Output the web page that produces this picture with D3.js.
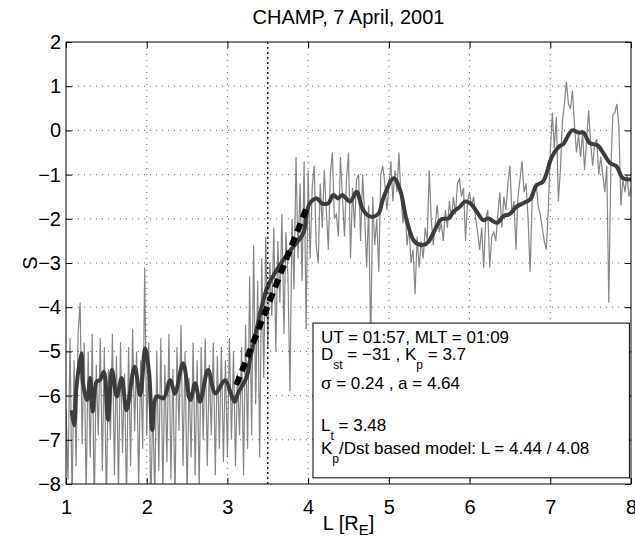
<!DOCTYPE html>
<html>
<head>
<meta charset="utf-8">
<script src="https://cdn.jsdelivr.net/npm/d3@7"></script>
<style>
  body { margin: 0; background: #fff; }
  svg text { font-family: "Liberation Sans", Arial, Helvetica, sans-serif; fill: #000; }
</style>
</head>
<body>
<svg id="drawing_region"></svg>
<script>
// axis ticks
const xTicks = [1, 2, 3, 4, 5, 6, 7, 8];
const yTicks = [2, 1, 0, -1, -2, -3, -4, -5, -6, -7, -8];

// raw S, sampled every 0.025 in L starting at L = 1
const rawStart = 1, rawStep = 0.025;
const rawS1 = [-6.3, -7.9, -4.7, -8.4, -5.2, -7.6, -4.6, -3.9, -7.1, -4.8,
               -8.3, -5.0, -7.4, -4.6, -8.6, -5.3, -6.9, -4.7, -7.7, -4.9,
               -8.5, -5.4, -7.0, -4.6, -7.8, -5.1, -8.2, -4.8, -7.3, -5.5,
               -8.4, -4.9, -7.6, -4.5, -6.8, -5.0, -8.1, -5.2, -7.2, -3.1];
const rawS2 = [-6.9, -4.8, -8.6, -6.2, -8.3, -5.0, -7.7, -4.7, -8.2, -5.3,
               -7.5, -4.6, -7.9, -5.4, -8.4, -4.9, -6.8, -4.4, -7.6, -5.0,
               -8.3, -5.6, -7.4, -4.8, -7.8, -5.2, -8.1, -4.9, -7.0, -4.7,
               -7.6, -5.3, -6.9, -4.8, -7.8, -5.1, -7.2, -4.9, -7.5, -5.2];
const rawS3 = [-7.4, -4.7, -7.0, -5.0, -7.6, -5.5, -6.9, -4.9, -7.8, -4.4,
               -7.2, -3.3, -6.9, -2.6, -6.2, -3.4, -7.4, -2.9, -5.6, -2.4,
               -4.9, -3.0, -4.2, -2.2, -5.0, -2.5, -3.9, -1.9, -4.6, -2.3,
               -3.3, -5.9, -2.0, -3.6, -0.6, -2.9, -1.2, -3.4, -0.7, -4.5];
const rawS4 = [-0.9, -2.9, -1.3, -0.8, -2.6, -3.0, -1.2, -2.2, -0.9, -1.8,
               -2.7, -1.0, -0.5, -2.0, -1.9, -2.4, -0.6, -1.5, -2.4, -1.1,
               -0.5, -2.9, -1.3, -2.2, -1.1, -1.0, -2.5, -1.0, -1.9, -3.1,
               -1.7, -4.9, -1.5, -2.6, -2.0, -3.2, -1.0, -0.8, -1.2, -1.8];
const rawS5 = [-1.3, -0.7, -1.6, -0.9, -1.4, -0.5, -1.5, -2.1, -1.7, -2.6,
               -2.2, -3.0, -2.7, -3.7, -2.4, -3.1, -2.5, -2.9, -2.2, -2.5,
               -0.9, -2.0, -2.6, -2.1, -1.7, -2.3, -2.1, -2.5, -1.8, -2.2,
               -1.6, -2.0, -1.5, -1.9, -1.2, -1.1, -1.5, -1.3, -2.5, -1.6];
const rawS6 = [-1.4, -1.7, -1.5, -2.0, -2.3, -2.7, -2.2, -3.1, -2.0, -1.8,
               -3.1, -2.4, -2.3, -2.5, -1.9, -1.4, -2.2, -1.5, -1.8, -1.2,
               -0.8, -1.9, -1.6, -2.7, -1.5, -1.1, -0.7, -1.4, -1.2, -2.0,
               -3.2, -1.6, -1.4, -1.2, -1.7, -1.9, -2.2, -2.5, -2.7, -1.8];
const rawS7 = [-0.5, 0.4, -0.4, 0.3, -1.6, -0.9, 0.2, 0.6, 1.1, 0.6,
               0.5, 0.9, 0.1, -0.5, -0.1, -0.6, -0.05, -0.9, -0.2, 0.45,
               -0.3, -0.8, -0.3, -0.2, -1.0, -0.6, -1.0, -1.4, -0.8, -3.9,
               -0.9, 0.35, 0.4, 0.6, 0.1, -1.7, -1.1, -1.4, -1.0, -1.5];
const rawEnd = [-1.3];

// smoothed S
const smoothL = [1.07, 1.10, 1.13, 1.19, 1.21, 1.26, 1.30, 1.33, 1.38, 1.42,
                 1.47, 1.52, 1.57, 1.63, 1.69, 1.75, 1.85, 1.92, 1.98, 2.03,
                 2.07, 2.12, 2.21, 2.29, 2.35, 2.45, 2.54, 2.60, 2.66, 2.76,
                 2.85, 2.97, 3.05, 3.09, 3.13, 3.24, 3.28, 3.36, 3.43, 3.49,
                 3.61, 3.78, 3.94, 3.98, 4.02, 4.11, 4.17, 4.25, 4.31, 4.37,
                 4.42, 4.52, 4.60, 4.68, 4.77, 4.87, 4.93, 5.06, 5.14, 5.22,
                 5.32, 5.43, 5.49, 5.59, 5.65, 5.74, 5.80, 5.88, 5.94, 6.01,
                 6.09, 6.17, 6.23, 6.34, 6.42, 6.50, 6.58, 6.67, 6.75, 6.83,
                 6.91, 7.02, 7.12, 7.16, 7.27, 7.35, 7.41, 7.49, 7.58, 7.66,
                 7.74, 7.82, 7.90, 8.00];
const smoothS = [-6.33, -6.67, -5.80, -5.04, -5.72, -6.10, -5.60, -6.36, -5.68, -5.65,
                 -5.46, -6.55, -5.42, -6.02, -5.60, -6.33, -5.35, -5.99, -4.93, -5.49,
                 -6.78, -6.02, -6.06, -5.65, -5.95, -5.27, -6.10, -5.72, -6.14, -5.42,
                 -5.95, -5.65, -5.99, -6.14, -5.95, -5.57, -5.19, -4.52, -3.95, -3.57,
                 -3.16, -2.71, -2.33, -1.90, -1.65, -1.54, -1.65, -1.65, -1.46, -1.54,
                 -1.46, -1.61, -1.39, -1.80, -1.95, -1.89, -1.54, -1.08, -1.35, -2.03,
                 -2.52, -2.59, -2.52, -2.18, -2.01, -1.99, -1.84, -1.73, -1.61, -1.65,
                 -1.84, -2.03, -1.99, -2.09, -1.94, -1.89, -1.73, -1.64, -1.56, -1.24,
                 -1.16, -0.60, -0.35, -0.31, 0.00, -0.05, -0.05, -0.29, -0.33, -0.52,
                 -0.74, -0.81, -1.08, -1.11];

// fitted transition (dashed)
const fitL = [3.11, 3.98];
const fitS = [-5.76, -1.76];

// L_t marker
const lT = 3.5;

// annotation box corners (data units)
const boxL = [4.06, 7.98];
const boxS = [-4.36, -7.86];

const config = {
  parent: '#drawing_region',
  width: 635,
  height: 541,
  margin: {top: 42, right: 4, bottom: 57, left: 66}
};

const svg = d3.select(config.parent)
  .attr('width', config.width)
  .attr('height', config.height);

const w = config.width - config.margin.left - config.margin.right;
const h = config.height - config.margin.top - config.margin.bottom;

const chart = svg.append('g')
  .attr('transform', `translate(${config.margin.left}, ${config.margin.top})`);

const x = d3.scaleLinear().domain([1, 8]).range([0, w]);
const y = d3.scaleLinear().domain([-8, 2]).range([h, 0]);

chart.append('clipPath').attr('id', 'clip')
  .append('rect').attr('width', w).attr('height', h);

// grid
chart.append('g').selectAll('line')
  .data(xTicks.slice(1, -1))
  .join('line')
  .attr('x1', d => x(d)).attr('x2', d => x(d))
  .attr('y1', 0).attr('y2', h)
  .attr('stroke', '#444').attr('stroke-width', 0.8)
  .attr('stroke-dasharray', '1,5');

chart.append('g').selectAll('line')
  .data(yTicks.slice(1, -1))
  .join('line')
  .attr('x1', 0).attr('x2', w)
  .attr('y1', d => y(d)).attr('y2', d => y(d))
  .attr('stroke', '#444').attr('stroke-width', 0.8)
  .attr('stroke-dasharray', '1,5');

const plot = chart.append('g').attr('clip-path', 'url(#clip)');

const rawS = [].concat(rawS1, rawS2, rawS3, rawS4, rawS5, rawS6, rawS7, rawEnd);
const raw = rawS.map((s, i) => ({L: rawStart + i * rawStep, S: s}));
const smooth = smoothL.map((l, i) => ({L: l, S: smoothS[i]}));
const fit = fitL.map((l, i) => ({L: l, S: fitS[i]}));

const line = d3.line().x(d => x(d.L)).y(d => y(d.S));

plot.append('path')
  .datum(raw)
  .attr('d', line)
  .attr('fill', 'none')
  .attr('stroke', '#858585')
  .attr('stroke-width', 1.2);

plot.append('path')
  .datum(smooth)
  .attr('d', line.curve(d3.curveCatmullRom.alpha(0.5)))
  .attr('fill', 'none')
  .attr('stroke', '#3c3c3c')
  .attr('stroke-width', 4)
  .attr('stroke-linejoin', 'round');

line.curve(d3.curveLinear);

plot.append('path')
  .datum(fit)
  .attr('d', line)
  .attr('fill', 'none')
  .attr('stroke', '#000')
  .attr('stroke-width', 6)
  .attr('stroke-dasharray', '9,6');

chart.append('line')
  .attr('x1', x(lT)).attr('x2', x(lT))
  .attr('y1', 0).attr('y2', h)
  .attr('stroke', '#000').attr('stroke-width', 1.3)
  .attr('stroke-dasharray', '2,3');

// axes (ticks inside, box on)
const tickFont = g => g.selectAll('text')
  .style('font-size', '20px')
  .style('font-family', '"Liberation Sans", Arial, sans-serif');

chart.append('g')
  .attr('transform', `translate(0, ${h})`)
  .call(d3.axisBottom(x).tickValues(xTicks).tickSize(-6).tickPadding(16).tickFormat(d3.format('d')))
  .call(g => g.select('.domain').remove())
  .call(tickFont);

chart.append('g')
  .call(d3.axisTop(x).tickValues(xTicks).tickSize(-6).tickFormat(''))
  .call(g => g.select('.domain').remove());

chart.append('g')
  .call(d3.axisLeft(y).tickValues(yTicks).tickSize(-6).tickPadding(5).tickFormat(d3.format('d')))
  .call(g => g.select('.domain').remove())
  .call(tickFont);

chart.append('g')
  .attr('transform', `translate(${w}, 0)`)
  .call(d3.axisRight(y).tickValues(yTicks).tickSize(-6).tickFormat(''))
  .call(g => g.select('.domain').remove());

chart.append('rect')
  .attr('width', w).attr('height', h)
  .attr('fill', 'none').attr('stroke', '#000').attr('stroke-width', 1);

// annotation box
chart.append('rect')
  .attr('x', x(boxL[0])).attr('y', y(boxS[0]))
  .attr('width', x(boxL[1]) - x(boxL[0]))
  .attr('height', y(boxS[1]) - y(boxS[0]))
  .attr('fill', '#fff').attr('stroke', '#000').attr('stroke-width', 1);

const tx = x(boxL[0]) + 8;
const ty0 = y(boxS[0]);
const info = chart.append('g').style('font-size', '17px');

const addLine = (dyTop, parts) => {
  const t = info.append('text').attr('x', tx).attr('y', ty0 + dyTop);
  let shift = 0;
  parts.forEach(p => {
    const sub = p[1] === 'sub';
    const want = sub ? 9 : 0;
    t.append('tspan')
      .attr('dy', want - shift)
      .style('font-size', sub ? '12px' : null)
      .text(p[0]);
    shift = want;
  });
};

addLine(20, [['UT = 01:57, MLT = 01:09']]);
addLine(37, [['D'], ['st', 'sub'], [' = \u221231 ,  K'], ['p', 'sub'], [' = 3.7']]);
addLine(66, [['\u03c3 = 0.24 , a = 4.64']]);
addLine(108, [['L'], ['t', 'sub'], [' = 3.48']]);
addLine(131, [['K'], ['p', 'sub'], ['/Dst based model: L = 4.44 / 4.08']]);

// titles
svg.append('text')
  .attr('x', config.margin.left + w / 2).attr('y', 24)
  .attr('text-anchor', 'middle')
  .style('font-size', '20px')
  .text('CHAMP, 7 April, 2001');

const xl = svg.append('text')
  .attr('x', config.margin.left + w / 2).attr('y', 530)
  .attr('text-anchor', 'middle')
  .style('font-size', '20px');
xl.append('tspan').text('L [R');
xl.append('tspan').attr('dy', 5).style('font-size', '15px').text('E');
xl.append('tspan').attr('dy', -5).text(']');

svg.append('text')
  .attr('transform', `translate(30, ${config.margin.top + h / 2}) rotate(-90)`)
  .attr('text-anchor', 'middle')
  .attr('dy', '0.35em')
  .style('font-size', '20px')
  .text('S');
</script>
</body>
</html>
